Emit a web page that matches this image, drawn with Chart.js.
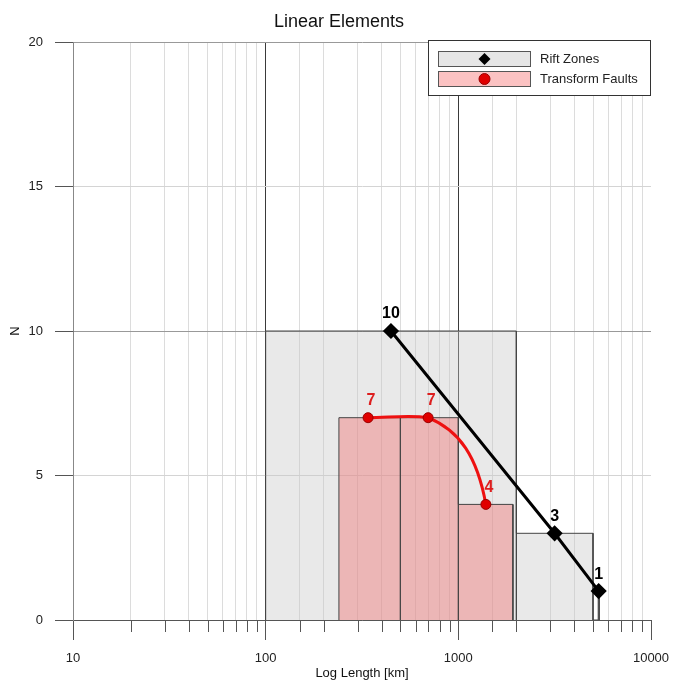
<!DOCTYPE html>
<html>
<head>
<meta charset="utf-8">
<script src="https://cdn.jsdelivr.net/npm/chart.js@4/dist/chart.umd.min.js"></script>
<style>
  body { margin: 0; background: #fff; }
</style>
</head>
<body>
<canvas id="myChart" width="673" height="682"></canvas>
<script>
// histogram bins (log length in km) and counts
const riftLo = [100, 2000, 5320];
const riftHi = [2000, 5000, 5380];
const riftCounts = [10, 3, 1];

const faultLo = [240, 500, 1000];
const faultHi = [500, 1000, 1920];
const faultCounts = [7, 7, 4];

// frequency curves
const riftX = [447, 3160, 5350];
const riftN = [10, 3, 1];
const faultX = [340, 697, 1390];
const faultN = [7, 7, 4];

const yTicks = [0, 5, 10, 15, 20];

function isPow10(v) {
    const l = Math.log10(v);
    return Math.abs(l - Math.round(l)) < 1e-9;
}

// outline of the bins, so the filled line draws each bar
function binOutline(lo, hi, n) {
    const pts = [];
    lo.forEach((a, i) => {
        pts.push({x: a, y: 0}, {x: a, y: n[i]}, {x: hi[i], y: n[i]}, {x: hi[i], y: 0});
    });
    return pts;
}

// rounder spline for the red curve (bends like the original plot)
const curvePlugin = {
    id: 'curve',
    beforeDatasetDraw(chart, args) {
        if (args.index !== 1) return;
        const meta = args.meta;
        meta.dataset.updateControlPoints(chart.chartArea, 'x');
        const p = meta.data;
        for (let i = 0; i < p.length - 1; i++) {
            const a = p[i], b = p[i + 1];
            const dx = b.x - a.x, dy = b.y - a.y;
            if (Math.abs(dy) < 0.5) {
                a.cp2x = a.x + dx * 0.33; a.cp2y = a.y;
                b.cp1x = b.x - dx * 0.3; b.cp1y = b.y - dx * 0.05;
            } else {
                a.cp2x = a.x + dx * 0.55; a.cp2y = a.y + dy * 0.15;
                b.cp1x = b.x - dx * 0.15; b.cp1y = b.y - dy * 0.55;
            }
        }
    }
};

const labelPlugin = {
    id: 'extras',
    afterDatasetsDraw(chart) {
        const c = chart.ctx;
        c.save();
        c.font = 'bold 16px Arial, "Liberation Sans"';
        c.textAlign = 'center';
        c.textBaseline = 'middle';
        [[0, '#000', 0], [1, '#dd1f1f', 3]].forEach(([idx, col, dx]) => {
            const meta = chart.getDatasetMeta(idx);
            const ys = chart.data.datasets[idx].data;
            meta.data.forEach((p, i) => {
                c.fillStyle = col;
                c.fillText(String(ys[i].y), p.x + dx, p.y - 17);
            });
        });
        c.restore();
    },
    afterDraw(chart) {
        const c = chart.ctx;
        const xs = chart.scales.x;
        const area = chart.chartArea;
        c.save();
        // minor ticks under the x axis
        c.strokeStyle = '#555';
        c.lineWidth = 1;
        xs.ticks.forEach(t => {
            if (isPow10(t.value)) return;
            const px = Math.round(xs.getPixelForValue(t.value)) + 0.5;
            c.beginPath();
            c.moveTo(px, area.bottom);
            c.lineTo(px, area.bottom + 12);
            c.stroke();
        });

        // title and axis titles
        c.fillStyle = '#111';
        c.textAlign = 'center';
        c.textBaseline = 'middle';
        c.font = '18px Arial, "Liberation Sans"';
        c.fillText('Linear Elements', 339, 22);
        c.font = '13px Arial, "Liberation Sans"';
        c.fillText('Log Length [km]', (area.left + area.right) / 2, 673);
        c.save();
        c.translate(15, (area.top + area.bottom) / 2);
        c.rotate(-Math.PI / 2);
        c.fillText('N', 0, 0);
        c.restore();

        // legend box
        const lx = 428.5, ly = 40.5, lw = 222, lh = 55;
        c.fillStyle = '#fff';
        c.fillRect(lx, ly, lw, lh);
        c.strokeStyle = '#333';
        c.strokeRect(lx, ly, lw, lh);
        const rows = [
            {label: 'Rift Zones', fill: '#e6e6e6', y: 51.5},
            {label: 'Transform Faults', fill: '#fbc2c2', y: 71.5}
        ];
        rows.forEach((r, i) => {
            c.fillStyle = r.fill;
            c.fillRect(438.5, r.y, 92, 15);
            c.strokeStyle = '#555';
            c.strokeRect(438.5, r.y, 92, 15);
            const mx = 484.5, my = r.y + 7.5;
            if (i === 0) {
                c.fillStyle = '#000';
                c.beginPath();
                c.moveTo(mx, my - 6);
                c.lineTo(mx + 6, my);
                c.lineTo(mx, my + 6);
                c.lineTo(mx - 6, my);
                c.closePath();
                c.fill();
            } else {
                c.fillStyle = '#e00000';
                c.strokeStyle = '#900';
                c.beginPath();
                c.arc(mx, my, 5.5, 0, Math.PI * 2);
                c.fill();
                c.stroke();
            }
            c.fillStyle = '#222';
            c.textAlign = 'left';
            c.font = '13px Arial, "Liberation Sans"';
            c.fillText(r.label, 540, my);
        });
        c.restore();
    }
};

const ctx = document.getElementById('myChart');

const myChart = new Chart(ctx, {
    type: 'line',
    data: {
        datasets: [{
            label: 'Rift Zones',
            data: riftX.map((x, i) => ({x: x, y: riftN[i]})),
            borderColor: '#000',
            borderWidth: 3,
            pointStyle: 'rectRot',
            pointRadius: 6,
            pointBackgroundColor: '#000',
            pointBorderColor: '#000',
            tension: 0,
            fill: false,
            order: 0
        }, {
            label: 'Transform Faults',
            data: faultX.map((x, i) => ({x: x, y: faultN[i]})),
            borderColor: '#ee1111',
            borderWidth: 3,
            pointStyle: 'circle',
            pointRadius: 5,
            pointBackgroundColor: '#e00000',
            pointBorderColor: '#990000',
            pointBorderWidth: 1,
            tension: 0.4,
            fill: false,
            order: 1
        }, {
            label: 'Transform Faults bins',
            data: binOutline(faultLo, faultHi, faultCounts),
            borderColor: '#444',
            borderWidth: 1,
            backgroundColor: 'rgba(240, 112, 112, 0.42)',
            fill: 'origin',
            pointRadius: 0,
            tension: 0,
            order: 2
        }, {
            label: 'Rift Zones bins',
            data: binOutline(riftLo, riftHi, riftCounts),
            borderColor: '#444',
            borderWidth: 1,
            backgroundColor: 'rgba(200, 200, 200, 0.4)',
            fill: 'origin',
            pointRadius: 0,
            tension: 0,
            order: 3
        }]
    },
    options: {
        responsive: false,
        animation: false,
        layout: { padding: { top: 42, right: 22, left: 0, bottom: 0 } },
        plugins: {
            legend: { display: false },
            tooltip: { enabled: false }
        },
        scales: {
            x: {
                type: 'logarithmic',
                min: 10,
                max: 10000,
                afterFit: s => { s.height = 62; s.paddingLeft = 0; s.paddingRight = 0; },
                border: { color: '#555' },
                grid: {
                    tickLength: 20,
                    color: c => {
                        const v = c.tick.value;
                        if (v === 10000) return 'rgba(0,0,0,0)';
                        return isPow10(v) ? '#3a3a3a' : '#dcdcdc';
                    },
                    tickColor: c => isPow10(c.tick.value) ? '#555' : 'rgba(0,0,0,0)'
                },
                ticks: {
                    autoSkip: false,
                    maxRotation: 0,
                    padding: 11,
                    color: '#222',
                    font: { family: 'Arial, "Liberation Sans"', size: 13 },
                    callback: v => isPow10(v) ? String(Math.round(v)) : ''
                }
            },
            y: {
                min: 0,
                max: 20,
                afterFit: s => { s.width = 73; s.paddingTop = 0; s.paddingBottom = 0; },
                afterBuildTicks: s => { s.ticks = yTicks.map(v => ({value: v})); },
                border: { color: '#888' },
                grid: {
                    tickLength: 18,
                    color: c => (c.tick.value % 10 === 0) ? '#999' : '#d4d4d4',
                    tickColor: '#555'
                },
                ticks: {
                    padding: 12,
                    color: '#222',
                    font: { family: 'Arial, "Liberation Sans"', size: 13 }
                }
            }
        }
    },
    plugins: [curvePlugin, labelPlugin]
});
</script>
</body>
</html>
